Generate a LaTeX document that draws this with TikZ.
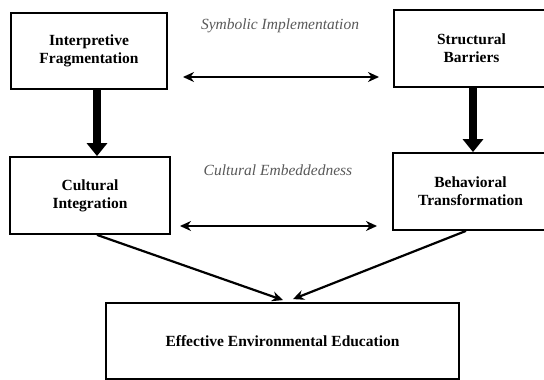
\documentclass[tikz,border=0pt]{standalone}
\usepackage{fontspec}
\setmainfont{Liberation Serif}
\usepackage{xcolor}
\usetikzlibrary{arrows.meta,positioning,calc}

\begin{document}
\begin{tikzpicture}[
    x=1pt, y=-1pt,
    every node/.style={font=\fontsize{15}{17}\selectfont},
    box/.style={draw, line width=1.8pt, align=center, font=\fontsize{15.5}{18}\selectfont\bfseries, inner sep=0pt},
    flowlabel/.style={font=\fontsize{15.5}{17}\selectfont\itshape, text=black!65},
    twoway/.style={line width=2.2pt, {Stealth[length=11pt,width=10pt]}-{Stealth[length=11pt,width=10pt]}},
    bigarrow/.style={line width=7.5pt, -{Triangle[length=13pt,width=20pt]}},
    feed/.style={line width=2.2pt, -{Stealth[length=11pt,width=10pt]}}
]

% Page frame
\useasboundingbox (0,0) rectangle (544,380);

% Boxes
\node[box, minimum width=156pt, minimum height=76pt] (interp) at (89,51) {Interpretive\\Fragmentation};
\node[box, minimum width=155pt, minimum height=77pt] (struct) at (471.5,48.5) {Structural\\Barriers};
\node[box, minimum width=160pt, minimum height=77pt] (cultint) at (90,195.5) {Cultural\\Integration};
\node[box, minimum width=155pt, minimum height=77pt] (behav) at (470.5,191.5) {Behavioral\\Transformation};
\node[box, minimum width=353pt, minimum height=76pt] (effect) at (282.5,341) {Effective Environmental Education};

% Labels between the columns
\node[flowlabel] (symlabel) at (280,26) {Symbolic Implementation};
\node[flowlabel] (embedlabel) at (278,170) {Cultural Embeddedness};

% Free ends of the two-way arrows
\coordinate (symL) at (183,77);
\coordinate (symR) at (379,77);
\coordinate (embL) at (180,226);
\coordinate (embR) at (377,226);

\draw[twoway] (symL) -- (symR);
\draw[twoway] (embL) -- (embR);

% Thick downward arrows
\draw[bigarrow] (interp.south -| 97,0) -- (cultint.north -| 97,0);
\draw[bigarrow] (struct.south -| 473,0) -- (behav.north -| 473,0);

% Converging arrows
\coordinate (tipL) at ($(effect.north)+(0.5,-2)$);
\coordinate (tipR) at ($(effect.north)+(10.5,-3)$);
\draw[feed] (cultint.south -| 97,0) -- (tipL);
\draw[feed] (behav.south -| 466,0) -- (tipR);

\end{tikzpicture}
\end{document}
